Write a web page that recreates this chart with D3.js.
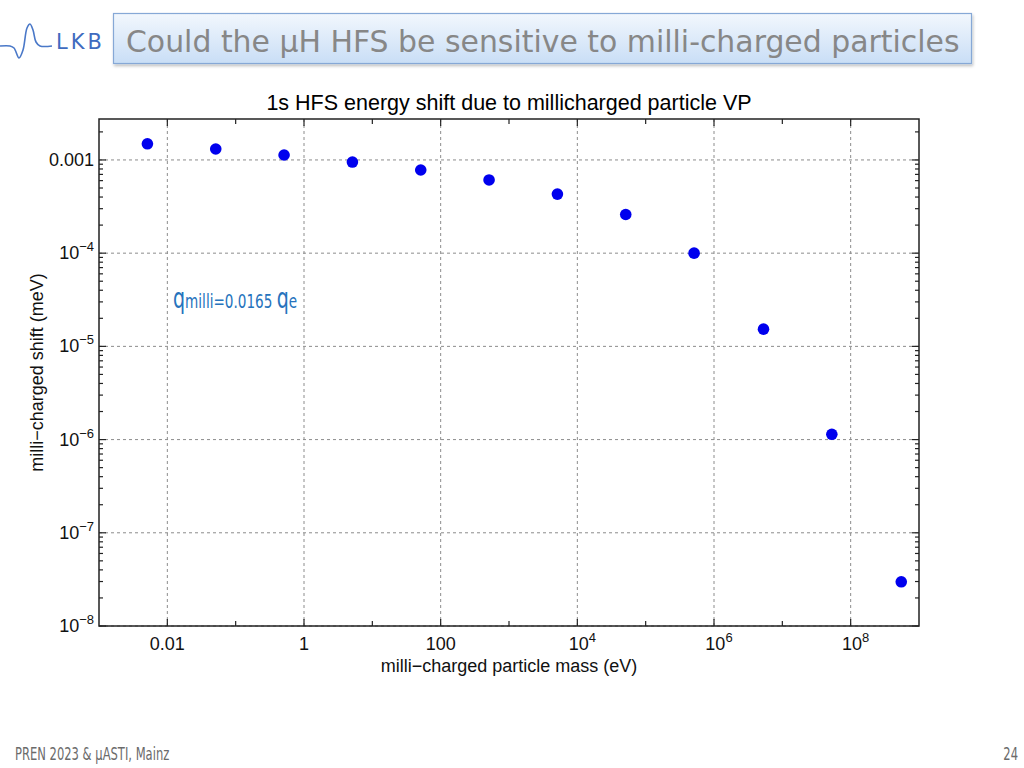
<!DOCTYPE html>
<html>
<head>
<meta charset="utf-8">
<script src="https://cdn.jsdelivr.net/npm/d3@7"></script>
<style>
  body { margin: 0; background: #fff; }
  svg { display: block; }
</style>
</head>
<body>
<svg width="1024" height="768"></svg>
<script>
  // particle masses (eV) and the resulting 1s HFS shift (meV)
  const masses = [5.11e-3, 5.11e-2, 0.511, 5.11, 51.1, 511, 5.11e3, 5.11e4, 5.11e5, 5.3e6, 5.3e7, 5.5e8];
  const shifts = [1.49e-3, 1.31e-3, 1.13e-3, 9.5e-4, 7.8e-4, 6.1e-4, 4.3e-4, 2.6e-4, 1.0e-4, 1.53e-5, 1.14e-6, 2.98e-8];
  const xTicks = [1e-2, 1, 1e2, 1e4, 1e6, 1e8];
  const xTickLabels = ["0.01", "1", "100", "10^4", "10^6", "10^8"];
  const yTicks = [1e-8, 1e-7, 1e-6, 1e-5, 1e-4, 1e-3];
  const yTickLabels = ["10^−8", "10^−7", "10^−6", "10^−5", "10^−4", "0.001"];

  const svg = d3.select("svg");
  const plotFont = "'Liberation Sans', Arial, sans-serif";

  // ---- slide header ----
  const defs = svg.append("defs");
  const grad = defs.append("linearGradient").attr("id", "hdr").attr("x1", 0).attr("y1", 0).attr("x2", 0).attr("y2", 1);
  grad.append("stop").attr("offset", "0%").attr("stop-color", "#f2f7fd");
  grad.append("stop").attr("offset", "100%").attr("stop-color", "#c9def6");
  const shadow = defs.append("filter").attr("id", "shd").attr("x", "-5%").attr("y", "-20%").attr("width", "110%").attr("height", "160%");
  shadow.append("feDropShadow").attr("dx", 1).attr("dy", 2).attr("stdDeviation", 1.5).attr("flood-color", "#000").attr("flood-opacity", 0.25);

  svg.append("rect")
      .attr("x", 113.5).attr("y", 13.5)
      .attr("width", 858).attr("height", 50)
      .attr("fill", "url(#hdr)")
      .attr("stroke", "#86a8d6")
      .attr("stroke-width", 1.2)
      .attr("filter", "url(#shd)");

  const headText = svg.append("text")
      .attr("x", 126).attr("y", 52)
      .attr("font-family", "Tahoma, 'DejaVu Sans', sans-serif")
      .attr("font-size", 31)
      .attr("fill", "#878787")
      .text("Could the µH HFS be sensitive to milli-charged particles");
  // fit header text to the box
  const hw = headText.node().getComputedTextLength();
  headText.attr("font-size", 31 * 834 / hw);

  // LKB logo wave
  const wave = [[0, 46], [10, 46], [14, 48], [19, 58], [23, 50], [27, 28], [30, 24], [33, 30], [36, 42], [40, 46], [52, 46]];
  svg.append("path")
      .attr("d", d3.line().curve(d3.curveCatmullRom)(wave))
      .attr("fill", "none")
      .attr("stroke", "#4a78c8")
      .attr("stroke-width", 1.6);
  svg.append("text")
      .attr("x", 56).attr("y", 49)
      .attr("font-family", "'DejaVu Sans', sans-serif")
      .attr("font-size", 21)
      .attr("letter-spacing", 3)
      .attr("fill", "#3f6bbf")
      .text("LKB");

  // narrow text helper (squeezed horizontally, like a condensed face)
  const narrowText = (px, py, size, colour, anchorEnd) => {
    const grp = svg.append("g").attr("transform", "translate(" + px + "," + py + ") scale(0.68,1)");
    return grp.append("text")
        .attr("text-anchor", anchorEnd ? "end" : "start")
        .attr("font-family", "'DejaVu Sans', sans-serif")
        .attr("font-size", size)
        .attr("fill", colour);
  };

  // footer
  narrowText(15, 760, 17, "#6b6b6b").text("PREN 2023 & µASTI, Mainz");
  narrowText(1018, 760, 17, "#6b6b6b", true).text("24");

  // ---- plot ----
  const margin = {top: 119, right: 105, bottom: 142, left: 99};
  const width = 1024 - margin.left - margin.right;
  const height = 768 - margin.top - margin.bottom;
  const g = svg.append("g").attr("transform", "translate(" + margin.left + "," + margin.top + ")");

  const x = d3.scaleLog().domain([1e-3, 1e9]).range([0, width]);
  const y = d3.scaleLog().domain([1e-8, 2.75e-3]).range([height, 0]);

  // grid
  g.append("g").selectAll("line")
    .data(xTicks)
    .enter().append("line")
      .attr("x1", d => x(d)).attr("x2", d => x(d))
      .attr("y1", 0).attr("y2", height)
      .attr("stroke", "#8c8c8c")
      .attr("stroke-dasharray", "3,3");
  g.append("g").selectAll("line")
    .data(yTicks)
    .enter().append("line")
      .attr("x1", 0).attr("x2", width)
      .attr("y1", d => y(d)).attr("y2", d => y(d))
      .attr("stroke", "#8c8c8c")
      .attr("stroke-dasharray", "3,3");

  // inward ticks: x at every decade, y at every decade plus 2..9 minors
  const xDecades = d3.range(-2, 9).map(e => Math.pow(10, e));
  const yMinor = [];
  for (let e = -8; e <= -3; e++) {
    for (let m = 1; m <= 9; m++) {
      const v = m * Math.pow(10, e);
      if (v <= y.domain()[1]) yMinor.push({v: v, major: m === 1});
    }
  }
  const ticks = g.append("g").attr("stroke", "#222").attr("stroke-width", 1.2);
  xDecades.forEach(d => {
    const len = xTicks.includes(d) ? 7 : 5;
    ticks.append("line").attr("x1", x(d)).attr("x2", x(d)).attr("y1", height).attr("y2", height - len);
    ticks.append("line").attr("x1", x(d)).attr("x2", x(d)).attr("y1", 0).attr("y2", len);
  });
  yMinor.forEach(d => {
    const len = d.major ? 7 : 4;
    ticks.append("line").attr("x1", 0).attr("x2", len).attr("y1", y(d.v)).attr("y2", y(d.v));
    ticks.append("line").attr("x1", width).attr("x2", width - len).attr("y1", y(d.v)).attr("y2", y(d.v));
  });

  // frame
  g.append("rect")
      .attr("width", width).attr("height", height)
      .attr("fill", "none")
      .attr("stroke", "#222")
      .attr("stroke-width", 1.5);

  // tick labels with superscripts
  const writeLabel = (sel, lbl) => {
    const parts = lbl.split("^");
    sel.append("tspan").text(parts[0]);
    if (parts[1]) {
      sel.append("tspan").attr("dy", -8).attr("font-size", 13).text(parts[1]);
    }
  };
  xTicks.forEach((d, i) => {
    const t = g.append("text")
        .attr("x", x(d) + (xTickLabels[i].includes("^") ? 5 : 0))
        .attr("y", height + 24)
        .attr("text-anchor", "middle")
        .attr("font-family", plotFont)
        .attr("font-size", 18)
        .attr("fill", "#111");
    writeLabel(t, xTickLabels[i]);
  });
  yTicks.forEach((d, i) => {
    const t = g.append("text")
        .attr("x", -5)
        .attr("y", y(d) + 6)
        .attr("text-anchor", "end")
        .attr("font-family", plotFont)
        .attr("font-size", 18)
        .attr("fill", "#111");
    writeLabel(t, yTickLabels[i]);
  });

  // points
  g.append("g").selectAll("circle")
    .data(masses)
    .enter().append("circle")
      .attr("cx", d => x(d))
      .attr("cy", (d, i) => y(shifts[i]))
      .attr("r", 5.8)
      .attr("fill", "#0000ee");

  // titles
  svg.append("text")
      .attr("x", 509).attr("y", 110)
      .attr("text-anchor", "middle")
      .attr("font-family", plotFont)
      .attr("font-size", 21.5)
      .attr("fill", "#000")
      .text("1s HFS energy shift due to millicharged particle VP");
  svg.append("text")
      .attr("x", 509).attr("y", 672)
      .attr("text-anchor", "middle")
      .attr("font-family", plotFont)
      .attr("font-size", 18)
      .attr("fill", "#111")
      .text("milli−charged particle mass (eV)");
  svg.append("text")
      .attr("transform", "translate(43," + (margin.top + height / 2) + ") rotate(-90)")
      .attr("text-anchor", "middle")
      .attr("font-family", plotFont)
      .attr("font-size", 18)
      .attr("fill", "#111")
      .text("milli−charged shift (meV)");

  // annotation
  const ann = narrowText(173, 308, 20, "#2673bd");
  ann.append("tspan").attr("font-size", 28).text("q");
  ann.append("tspan").text("milli=0.0165 ");
  ann.append("tspan").attr("font-size", 28).text("q");
  ann.append("tspan").text("e");
</script>
</body>
</html>
